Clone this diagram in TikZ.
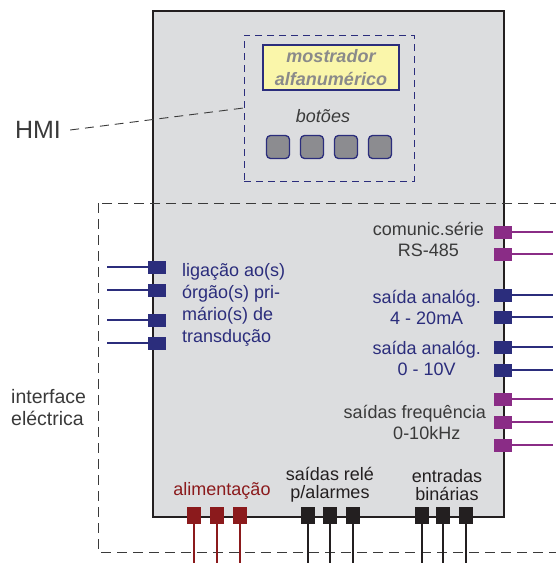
\documentclass[tikz,border=0pt]{standalone}
\usepackage{fontspec}
\setmainfont{Liberation Sans}
\usetikzlibrary{positioning}
\definecolor{cpanel}{HTML}{DCDDDF}
\definecolor{cblue}{HTML}{2B2D7C}
\definecolor{cpurple}{HTML}{8A2C86}
\definecolor{cred}{HTML}{8B1A1C}
\definecolor{cblack}{HTML}{231F20}
\definecolor{cgrey}{HTML}{3A3A3A}
\definecolor{cmute}{HTML}{8A8A8A}
\definecolor{cyellow}{HTML}{FAF6AA}
\definecolor{cbutton}{HTML}{8C8C90}
\tikzset{
  every picture/.style={x=1pt, y=-1pt, font=\fontsize{18}{22}\selectfont},
  port/.style={fill=#1, inner sep=0pt, minimum width=18pt, minimum height=13pt},
  vport/.style={fill=#1, inner sep=0pt, minimum width=14pt, minimum height=17pt},
  wire/.style={draw=#1, line width=1.5pt},
  frame/.style={draw=#1, line width=0.9pt, dash pattern=on 9pt off 6pt},
  frame/.default=cgrey,
  txt/.style={text=#1, align=center, inner sep=0pt},
  txt/.default=cgrey,
}

\begin{document}
\begin{tikzpicture}
  \useasboundingbox (0,0) rectangle (555,563);
  % unit
  \node[draw=cblack, fill=cpanel, line width=1.5pt, inner sep=0pt, minimum width=351pt, minimum height=506pt] (unit) at (328.5,264) {};
  % HMI
  \node[frame=cblue, dash pattern=on 7pt off 5pt, minimum width=170pt, minimum height=146pt, inner sep=0pt] (hmi) at (329,108) {};
  \node[draw=cblue, fill=cyellow, line width=1.5pt, minimum width=136pt, minimum height=45pt, inner sep=0pt,
        txt=cmute, font=\fontsize{18}{23}\selectfont\bfseries\itshape] (display) at (331,67.5) {mostrador\\alfanumérico};
  \node[txt, font=\fontsize{18}{22}\selectfont\itshape] (buttons) at (323,116) {botões};
  \foreach \x [count=\k] in {278,312,346,380}
    \node[draw=cblue, fill=cbutton, line width=1.3pt, rounded corners=4pt, minimum size=23pt, inner sep=0pt] (key\k) at (\x,147) {};
  \node[txt, font=\fontsize{25}{28}\selectfont] (hmilbl) at (38,130) {HMI};
  \draw[frame] ([xshift=9pt]hmilbl.east) -- (hmi.west);
  % interface
  \draw[frame, dash pattern=on 10pt off 6pt] (98,203) rectangle (580,552);
  \node[txt, align=left, anchor=west, font=\fontsize{19.5}{22}\selectfont] (iface) at (11,408) {interface\\eléctrica};
  % left ports
  \foreach \y [count=\k] in {267,290,320,343} {
    \node[port=cblue] (l\k) at (157,\y) {};
    \coordinate (le\k) at (107,\y);
    \draw[wire=cblue] (le\k) -- (l\k);
  }
  \node[txt=cblue, align=left, anchor=west] (sensor) at (182,305) {ligação ao(s)\\órgão(s) pri-\\mário(s) de\\transdução};
  % right ports
  \foreach \y/\c [count=\k] in {232/cpurple, 254/cpurple, 295/cblue, 317/cblue, 347/cblue, 370/cblue, 399/cpurple, 422/cpurple, 445/cpurple} {
    \node[port=\c] (r\k) at (503,\y) {};
    \coordinate (re\k) at (553,\y);
    \draw[wire=\c] (r\k) -- (re\k);
  }
  \node[txt, anchor=east, font=\fontsize{18}{21}\selectfont] (serial) at (484,239) {comunic.série\\RS-485};
  \node[txt=cblue, anchor=east, font=\fontsize{18}{21}\selectfont] (aout1) at (481,307) {saída analóg.\\4 - 20mA};
  \node[txt=cblue, anchor=east, font=\fontsize{18}{21}\selectfont] (aout2) at (481,358) {saída analóg.\\0 - 10V};
  \node[txt, anchor=east, font=\fontsize{18}{21}\selectfont] (fout) at (486,422) {saídas frequência\\\hspace*{24pt}0-10kHz};
  % bottom ports
  \foreach \x/\c [count=\k] in {194/cred, 217/cred, 240/cred, 308/cblack, 330/cblack, 353/cblack, 422/cblack, 443/cblack, 466/cblack} {
    \node[vport=\c] (b\k) at (\x,515) {};
    \coordinate (be\k) at (\x,563);
    \draw[wire=\c] (b\k) -- (be\k);
  }
  \node[txt=cred] (power) at (222,491) {alimentação};
  \node[txt=cblack, font=\fontsize{18}{18}\selectfont] (relay) at (330,485) {saídas relé\\p/alarmes};
  \node[txt=cblack, font=\fontsize{18}{18}\selectfont] (binary) at (447,485) {entradas\\binárias};
\end{tikzpicture}
\end{document}
